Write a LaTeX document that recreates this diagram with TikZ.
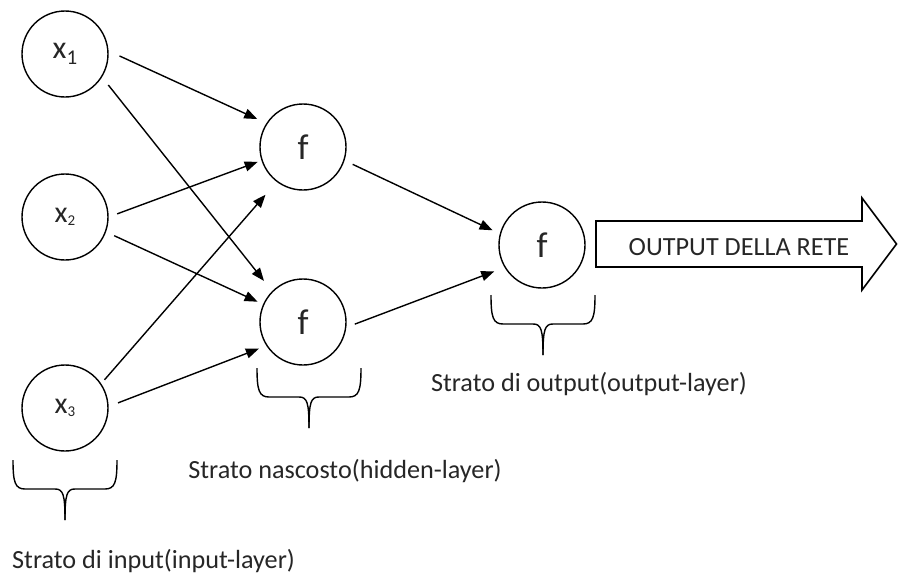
\documentclass[tikz,border=0pt]{standalone}
\usepackage{fontspec}
\setmainfont{Carlito}
\usetikzlibrary{arrows.meta}
\tikzset{
  neuron/.style={circle, draw, line width=1.4pt, minimum size=86pt, inner sep=0pt, text=black!85},
  conn/.style={line width=1.4pt, -{Triangle[length=13pt,width=10pt]}},
  lbl/.style={font=\fontsize{26.2}{30}\selectfont, text=black!85, inner sep=0pt, anchor=base},
  brace/.pic={
    \draw[line width=1.4pt] (-52,0) .. controls (-52,22) and (-50,29) .. (-40,29) -- (-10,29) .. controls (-2,29) and (0,34) .. (0,60);
    \draw[line width=1.4pt] (52,0) .. controls (52,22) and (50,29) .. (40,29) -- (10,29) .. controls (2,29) and (0,34) .. (0,60);
  }
}
\newcommand{\xin}[1]{\fontsize{32}{34}\selectfont x\raisebox{-6pt}{\fontsize{21}{23}\selectfont #1}}
\newcommand{\xsm}[1]{\fontsize{30}{32}\selectfont x\raisebox{-3pt}{\fontsize{15}{17}\selectfont #1}}
\begin{document}
\begin{tikzpicture}[x=1pt,y=-1pt]
\useasboundingbox (0,0) rectangle (898,576);
\node[neuron] (x1) at (65,54) {\xin{1}};
\node[neuron] (x2) at (65,217) {\xsm{2}};
\node[neuron] (x3) at (65,408) {\xsm{3}};
\node[neuron, font=\fontsize{36}{38}\selectfont] (h1) at (303,147) {f};
\node[neuron, font=\fontsize{36}{38}\selectfont] (h2) at (303,322) {f};
\node[neuron, font=\fontsize{36}{38}\selectfont] (o) at (542,245) {f};

\draw[conn, shorten <=12pt, shorten >=10pt] (x1.4) -- (h1.147);
\draw[conn, shorten <=10pt, shorten >=13pt] (x1.-32) -- (h2.135);
\draw[conn, shorten <=9pt, shorten >=4pt] (x2.0) -- (h1.198);
\draw[conn, shorten <=9pt, shorten >=6pt] (x2.-20) -- (h2.156);
\draw[conn, shorten <=5pt, shorten >=17pt] (x3.34) -- (h1.233);
\draw[conn, shorten <=10pt, shorten >=8pt] (x3.2) -- (h2.213);
\draw[conn, shorten <=9pt, shorten >=8pt] (h1.-18) -- (o.165);
\draw[conn, shorten <=9pt, shorten >=11pt] (h2.-7) -- (o.211);

\draw[line width=1.6pt, line join=miter] (596,221) -- (862,221) -- (862,198) -- (896.5,244) -- (862,290) -- (862,267) -- (596,267) -- cycle;
\node[lbl] (out) at (739,255) {OUTPUT DELLA RETE};

\pic at (65,460) {brace};
\pic at (309,368) {brace};
\pic at (543,295) {brace};

\node[lbl, anchor=base west] (linput) at (12,568) {Strato di input(input-layer)};
\node[lbl] (lhidden) at (345,478) {Strato nascosto(hidden-layer)};
\node[lbl] (loutput) at (589,391) {Strato di output(output-layer)};
\end{tikzpicture}
\end{document}
